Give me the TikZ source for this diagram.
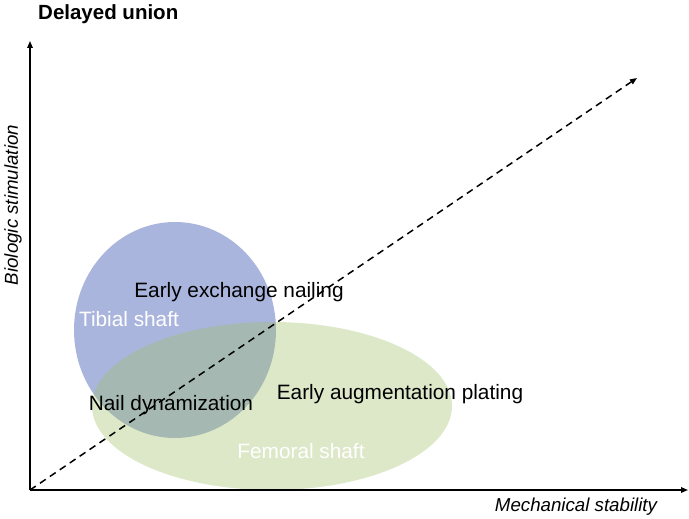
\documentclass[tikz,border=0pt]{standalone}
\usepackage{fontspec}
\setmainfont{Liberation Sans}
\usetikzlibrary{arrows.meta,shapes.geometric}
\definecolor{tibblue}{RGB}{170,181,221}
\definecolor{femgreen}{RGB}{158,192,103}
\tikzset{
  axisline/.style={line width=1.4pt,-{Triangle[length=7pt,width=5.5pt]}},
  trendline/.style={line width=1.5pt,dash pattern=on 7pt off 5pt,-{Triangle[length=7pt,width=5.5pt]}},
  region/.style={ellipse,draw=none,inner sep=0pt},
  lbl/.style={font=\fontsize{20.8}{24}\selectfont,inner sep=0pt,text=black},
  axlbl/.style={font=\fontsize{18.7}{22}\selectfont\itshape,inner sep=0pt,text=black},
  wlbl/.style={lbl,text=white},
  ttl/.style={font=\fontsize{20.5}{24}\selectfont\bfseries,inner sep=0pt,anchor=west},
}
\begin{document}
\begin{tikzpicture}[x=1pt,y=-1pt]
\useasboundingbox (0,0) rectangle (689,519);
% regions
\node[region,fill=tibblue,minimum width=202pt,minimum height=216pt] (tib) at (175,330) {};
\node[region,fill=femgreen,fill opacity=0.36,minimum width=360pt,minimum height=168pt] (fem) at (272,406) {};
% axes
\coordinate (o) at (30,490);
\coordinate (ytop) at (30,41);
\coordinate (xend) at (688,490);
\coordinate (dend) at (637,78);
\draw[axisline] (o) -- (ytop);
\draw[axisline] (o) -- (xend);
\draw[trendline] (o) -- (dend);
% labels
\node[ttl] (title) at (38,14) {Delayed union};
\node[axlbl,rotate=90] (ylab) at (13,205) {Biologic stimulation};
\node[axlbl] (xlab) at (576,507) {Mechanical stability};
\node[lbl] (een) at (239,292) {Early exchange nailing};
\node[wlbl] (tibl) at (129,319) {Tibial shaft};
\node[lbl] (nd) at (171,405) {Nail dynamization};
\node[lbl] (eap) at (400,394) {Early augmentation plating};
\node[wlbl] (feml) at (301,451) {Femoral shaft};
\end{tikzpicture}
\end{document}
